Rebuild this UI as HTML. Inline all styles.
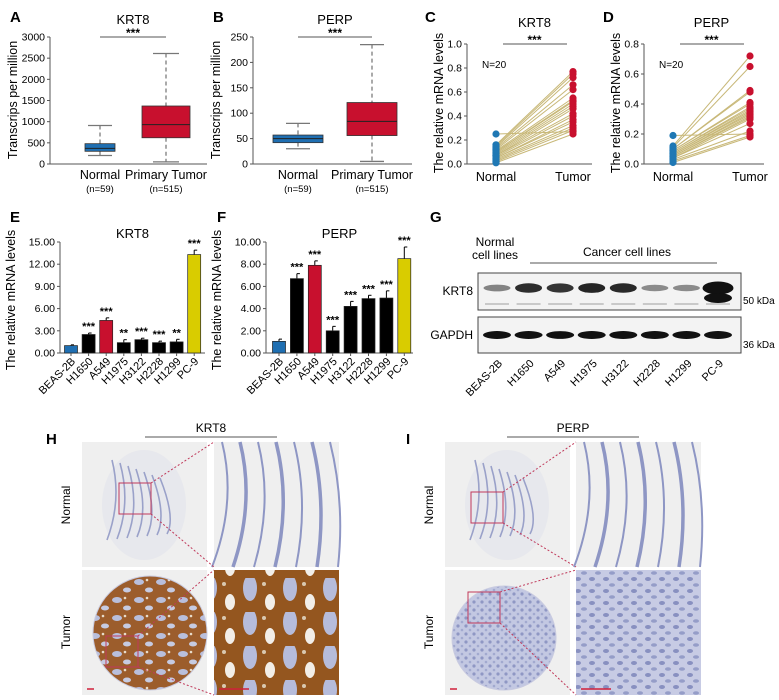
<!DOCTYPE html>
<html><head><meta charset="utf-8"><style>
html,body{margin:0;padding:0;background:#fff;}
svg{display:block;font-family:"Liberation Sans",Arial,sans-serif;}
</style></head><body>
<svg id="fig" width="779" height="700" viewBox="0 0 779 700" xmlns="http://www.w3.org/2000/svg">
<defs>
<pattern id="brownPat" width="22" height="18" patternUnits="userSpaceOnUse">
<rect width="22" height="18" fill="#9c5d2c"/>
<ellipse cx="7" cy="6" rx="5" ry="3" fill="#b9bfdc"/>
<ellipse cx="17" cy="14" rx="4" ry="2.5" fill="#c6cbe2"/>
<circle cx="15" cy="4" r="1.3" fill="#e8dccb"/>
</pattern>
<pattern id="brownZoom" width="40" height="34" patternUnits="userSpaceOnUse">
<rect width="40" height="34" fill="#94561f"/>
<ellipse cx="10" cy="10" rx="7" ry="13" fill="#b6bcdb"/>
<ellipse cx="30" cy="24" rx="5" ry="8" fill="#f2eee8"/>
<circle cx="24" cy="6" r="2" fill="#d9c8b0"/>
</pattern>
<pattern id="bluePat" width="8" height="8" patternUnits="userSpaceOnUse">
<rect width="8" height="8" fill="#c3c8e2"/>
<circle cx="2" cy="2" r="1.6" fill="#8f97c4"/>
<circle cx="6" cy="6" r="1.3" fill="#a2a9cf"/>
</pattern>
<pattern id="blueZoom" width="14" height="12" patternUnits="userSpaceOnUse">
<rect width="14" height="12" fill="#c7cbe4"/>
<ellipse cx="4" cy="3" rx="3" ry="2" fill="#8890c0"/>
<ellipse cx="10" cy="9" rx="3" ry="1.8" fill="#959dc8"/>
</pattern>
</defs>
<g id="root"></g>
</svg>
<script>
// ---------- DATA ----------
const boxCats = ["Normal","Primary Tumor"];
const boxN = ["(n=59)","(n=515)"];
const krt8Box = [[200,300,370,480,910],[50,620,930,1370,2610]];
const perpBox = [[30,42,50,57,80],[5,56,84,121,235]];
const krt8BoxTicks = [0,500,1000,1500,2000,2500,3000];
const perpBoxTicks = [0,50,100,150,200,250];

const krt8Normal = [0.25,0.16,0.15,0.14,0.13,0.12,0.11,0.10,0.10,0.09,0.08,0.07,0.07,0.06,0.05,0.05,0.04,0.03,0.02,0.01];
const krt8Tumor  = [0.27,0.77,0.75,0.72,0.66,0.62,0.55,0.53,0.52,0.50,0.48,0.46,0.42,0.40,0.37,0.35,0.32,0.30,0.28,0.25];
const perpNormal = [0.19,0.12,0.11,0.10,0.10,0.09,0.09,0.08,0.08,0.07,0.07,0.06,0.06,0.05,0.05,0.04,0.04,0.03,0.02,0.01];
const perpTumor  = [0.20,0.72,0.65,0.49,0.48,0.41,0.40,0.38,0.37,0.36,0.35,0.34,0.33,0.32,0.31,0.30,0.27,0.22,0.19,0.18];
const krt8PairTicks = [0,0.2,0.4,0.6,0.8,1.0];
const perpPairTicks = [0,0.2,0.4,0.6,0.8];

const cellLines = ["BEAS-2B","H1650","A549","H1975","H3122","H2228","H1299","PC-9"];
const krt8Bar = [1.0,2.5,4.4,1.4,1.8,1.4,1.5,13.3];
const krt8Err = [0.1,0.2,0.35,0.4,0.2,0.2,0.35,0.6];
const krt8Sig = ["","***","***","**","***","***","**","***"];
const perpBar = [1.05,6.7,7.9,2.0,4.2,4.9,4.95,8.5];
const perpErr = [0.2,0.45,0.4,0.4,0.45,0.3,0.65,1.05];
const perpSig = ["","***","***","***","***","***","***","***"];
const krt8BarTicks = ["0.00","3.00","6.00","9.00","12.00","15.00"];
const perpBarTicks = ["0.00","2.00","4.00","6.00","8.00","10.00"];
const barColors = ["#1f6fb2","#000","#c8102e","#000","#000","#000","#000","#d9cc00"];

const blotKrt8 = [0.35,0.9,0.85,0.95,0.92,0.3,0.3,1.6];
const blotGapdh = [0.9,0.9,0.88,0.92,0.92,0.92,0.9,0.9];

// ---------- HELPERS ----------
const NS="http://www.w3.org/2000/svg";
const root=document.getElementById('root');
function el(tag,attrs,parent){const e=document.createElementNS(NS,tag);for(const k in attrs)e.setAttribute(k,attrs[k]);(parent||root).appendChild(e);return e;}
function txt(s,attrs,parent){const e=el('text',attrs,parent);e.textContent=s;return e;}
function lin(d,rr){return v=>rr[0]+(v-d[0])/(d[1]-d[0])*(rr[1]-rr[0]);}

// panel letters
[["A",10,22],["B",213,22],["C",425,22],["D",603,22],["E",10,222],["F",217,222],["G",430,222],["H",46,444],["I",406,444]].forEach(p=>{
 const t=txt(p[0],{x:p[1],y:p[2],'font-size':15,'font-weight':'bold'});
 
 
});

// ---------- BOX PLOTS ----------
function boxPanel(o){
 const g=el('g',{});
 const y=lin([0,o.max],[164,37]);
 el('line',{x1:o.ax,y1:37,x2:o.ax,y2:164,stroke:'#555'},g);
 el('line',{x1:o.ax,y1:164,x2:o.axEnd,y2:164,stroke:'#555'},g);
 o.ticks.forEach(t=>{el('line',{x1:o.ax-3,x2:o.ax,y1:y(t),y2:y(t),stroke:'#555'},g);
  txt(String(t),{x:o.ax-5,y:y(t)+3.5,'font-size':10.5,'text-anchor':'end'},g);});
 const yt=txt('Transcrips per million',{x:0,y:0,'font-size':12.5,'text-anchor':'middle',transform:`translate(${o.ax-33},100) rotate(-90)`},g);
 
 txt(o.title,{x:(o.cx[0]+o.cx[1])/2,y:24,'font-size':13,'text-anchor':'middle'},g);
 el('line',{x1:o.cx[0],x2:o.cx[1],y1:37,y2:37,stroke:'#777','stroke-width':1.3},g);
 txt('***',{x:(o.cx[0]+o.cx[1])/2,y:37,'font-size':12,'text-anchor':'middle','font-weight':'bold'},g);
 o.data.forEach((d,i)=>{
  const cx=o.cx[i],w=o.w[i],cw=o.cw[i],col=i?'#c8102e':'#1f6fb2';
  el('line',{x1:cx,x2:cx,y1:y(d[4]),y2:y(d[3]),stroke:'#555','stroke-dasharray':'4,3'},g);
  el('line',{x1:cx,x2:cx,y1:y(d[1]),y2:y(d[0]),stroke:'#555','stroke-dasharray':'4,3'},g);
  el('line',{x1:cx-cw,x2:cx+cw,y1:y(d[4]),y2:y(d[4]),stroke:'#777','stroke-width':1.3},g);
  el('line',{x1:cx-cw,x2:cx+cw,y1:y(d[0]),y2:y(d[0]),stroke:'#777','stroke-width':1.3},g);
  const b=el('rect',{x:cx-w,y:y(d[3]),width:2*w,height:y(d[1])-y(d[3]),fill:col,stroke:'#333','stroke-width':0.8},g);
  
  el('line',{x1:cx-w,x2:cx+w,y1:y(d[2]),y2:y(d[2]),stroke:'#222'},g);
  txt(boxCats[i],{x:cx,y:179,'font-size':12.5,'text-anchor':'middle'},g);
  txt(boxN[i],{x:cx,y:192,'font-size':9.5,'text-anchor':'middle'},g);
 });
}
boxPanel({name:'panel-a-krt8-boxplot',ax:50,axEnd:207,max:3000,ticks:krt8BoxTicks,title:'KRT8',data:krt8Box,cx:[100,166],w:[15,24],cw:[12,13]});
boxPanel({name:'panel-b-perp-boxplot',ax:253,axEnd:412,max:250,ticks:perpBoxTicks,title:'PERP',data:perpBox,cx:[298,372],w:[25,25],cw:[12,12]});

// ---------- PAIRED PLOTS ----------
function pairPanel(o){
 const g=el('g',{});
 const y=lin([0,o.max],[164,44]);
 el('line',{x1:o.ax,y1:44,x2:o.ax,y2:164,stroke:'#555'},g);
 el('line',{x1:o.ax,y1:164,x2:o.axEnd,y2:164,stroke:'#555'},g);
 o.ticks.forEach(t=>{el('line',{x1:o.ax-3,x2:o.ax,y1:y(t),y2:y(t),stroke:'#555'},g);
  txt(t.toFixed(1),{x:o.ax-5,y:y(t)+3.5,'font-size':10.5,'text-anchor':'end'},g);});
 const yt=txt('The relative mRNA levels',{x:0,y:0,'font-size':12.5,'text-anchor':'middle',transform:`translate(${o.ax-24},103) rotate(-90)`},g);
 
 txt(o.title,{x:(o.nx+o.tx)/2,y:27,'font-size':13,'text-anchor':'middle'},g);
 el('line',{x1:o.nx+7,x2:o.tx-6,y1:44,y2:44,stroke:'#777','stroke-width':1.3},g);
 txt('***',{x:(o.nx+o.tx)/2,y:44,'font-size':12,'text-anchor':'middle','font-weight':'bold'},g);
 txt('N=20',{x:o.ax+15,y:68,'font-size':10},g);
 o.n.forEach((v,i)=>{const l=el('line',{x1:o.nx,y1:y(v),x2:o.tx,y2:y(o.t[i]),stroke:'#c8b878','stroke-width':1},g);
  });
 o.n.forEach(v=>{const c=el('circle',{cx:o.nx,cy:y(v),r:3.6,fill:'#1f78b4'},g);});
 o.t.forEach(v=>{const c=el('circle',{cx:o.tx,cy:y(v),r:3.6,fill:'#c8102e'},g);});
 txt('Normal',{x:o.nx,y:181,'font-size':12.5,'text-anchor':'middle'},g);
 txt('Tumor',{x:o.tx,y:181,'font-size':12.5,'text-anchor':'middle'},g);
}
pairPanel({name:'panel-c-krt8-paired',ax:467,axEnd:592,max:1.0,ticks:krt8PairTicks,title:'KRT8',n:krt8Normal,t:krt8Tumor,nx:496,tx:573});
pairPanel({name:'panel-d-perp-paired',ax:644,axEnd:764,max:0.8,ticks:perpPairTicks,title:'PERP',n:perpNormal,t:perpTumor,nx:673,tx:750});

// ---------- BAR CHARTS ----------
function barPanel(o){
 const g=el('g',{});
 const y=lin([0,o.max],[353,242]);
 el('line',{x1:o.ax,y1:242,x2:o.ax,y2:353,stroke:'#555'},g);
 el('line',{x1:o.ax,y1:353,x2:o.axEnd,y2:353,stroke:'#555'},g);
 o.ticks.forEach(t=>{const v=parseFloat(t);el('line',{x1:o.ax-3,x2:o.ax,y1:y(v),y2:y(v),stroke:'#555'},g);
  txt(t,{x:o.ax-5,y:y(v)+3.5,'font-size':10.5,'text-anchor':'end'},g);});
 const yt=txt('The relative mRNA levels',{x:0,y:0,'font-size':12.5,'text-anchor':'middle',transform:`translate(${o.ax-45},300) rotate(-90)`},g);
 
 txt(o.title,{x:o.ax+(o.axEnd-o.ax)/2,y:238,'font-size':13,'text-anchor':'middle'},g);
 o.vals.forEach((v,i)=>{
  const cx=o.x0+i*o.step;
  el('line',{x1:cx,x2:cx,y1:y(v),y2:y(v+o.err[i]),stroke:'#000'},g);
  el('line',{x1:cx,x2:cx+3,y1:y(v+o.err[i]),y2:y(v+o.err[i]),stroke:'#000'},g);
  const b=el('rect',{x:cx-6.5,y:y(v),width:13,height:353-y(v),fill:barColors[i],stroke:'#222','stroke-width':0.7},g);
  
  if(o.sig[i])txt(o.sig[i],{x:cx,y:y(v+o.err[i])-3,'font-size':11,'text-anchor':'middle','font-weight':'bold'},g);
  el('line',{x1:cx,x2:cx,y1:353,y2:356,stroke:'#555'},g);
  txt(cellLines[i],{x:0,y:0,'font-size':11,'text-anchor':'end',transform:`translate(${cx+5},362) rotate(-45)`},g);
 });
}
barPanel({name:'panel-e-krt8-bars',ax:60,axEnd:205,max:15,ticks:krt8BarTicks,title:'KRT8',vals:krt8Bar,err:krt8Err,sig:krt8Sig,x0:71,step:17.6});
barPanel({name:'panel-f-perp-bars',ax:266,axEnd:413,max:10,ticks:perpBarTicks,title:'PERP',vals:perpBar,err:perpErr,sig:perpSig,x0:279,step:17.9});

// ---------- WESTERN BLOT ----------
(function(){
 const g=el('g',{});
 txt('Normal',{x:495,y:246,'font-size':12,'text-anchor':'middle'},g);
 txt('cell lines',{x:495,y:259,'font-size':12,'text-anchor':'middle'},g);
 txt('Cancer cell lines',{x:627,y:256,'font-size':12,'text-anchor':'middle'},g);
 el('line',{x1:530,x2:717,y1:263,y2:263,stroke:'#555'},g);
 el('rect',{x:478,y:273,width:263,height:37,fill:'#f3f3f3',stroke:'#444'},g);
 el('rect',{x:478,y:317,width:263,height:36,fill:'#f3f3f3',stroke:'#444'},g);
 txt('KRT8',{x:473,y:295,'font-size':12,'text-anchor':'end'},g);
 txt('GAPDH',{x:473,y:339,'font-size':12,'text-anchor':'end'},g);
 txt('50 kDa',{x:743,y:304,'font-size':10},g);
 txt('36 kDa',{x:743,y:348,'font-size':10},g);
 const lanes=cellLines.length, x0=497, step=(718-497)/(lanes-1);
 cellLines.forEach((c,i)=>{
  const cx=x0+i*step, k=blotKrt8[i];
  const w=i===7?31:27;
  const bk=el('ellipse',{cx:cx,cy:288,rx:w/2,ry:Math.min(2.5+k*2.5,10),fill:'#111','fill-opacity':Math.min(0.25+k*0.7,1)},g);
  
  el('line',{x1:cx-12,x2:cx+12,y1:304,y2:304,stroke:'#bbb','stroke-width':1.5},g);
  const bg=el('ellipse',{cx:cx,cy:335,rx:14,ry:2.6+blotGapdh[i]*1.5,fill:'#111'},g);
  
  txt(c,{x:0,y:0,'font-size':11,'text-anchor':'end',transform:`translate(${cx+6},364) rotate(-45)`},g);
 });
 el('ellipse',{cx:718,cy:298,rx:14,ry:5,fill:'#111'},g);
})();

// ---------- IHC ----------
function ihc(o){
 const g=el('g',{});
 txt(o.title,{x:(o.l1+o.l2)/2,y:432,'font-size':12,'text-anchor':'middle'},g);
 el('line',{x1:o.l1,x2:o.l2,y1:437,y2:437,stroke:'#555'},g);
 txt('Normal',{x:0,y:0,'font-size':12,'text-anchor':'middle',transform:`translate(${o.lx},505) rotate(-90)`},g);
 txt('Tumor',{x:0,y:0,'font-size':12,'text-anchor':'middle',transform:`translate(${o.lx},632) rotate(-90)`},g);
 [[o.x1,442],[o.x2,442],[o.x1,570],[o.x2,570]].forEach(p=>el('rect',{x:p[0],y:p[1],width:125,height:125,fill:'#efefef'},g));
 el('ellipse',{cx:o.x1+62,cy:505,rx:42,ry:55,fill:'#dfe1ec','fill-opacity':0.5},g);
 for(let k=0;k<7;k++){el('path',{d:`M${o.x1+30+k*8} ${460+k*3} q ${10+k} 40 ${-5+k*2} ${80-k*4}`,stroke:'#9aa1c9','stroke-width':1.6,fill:'none'},g);}
 for(let k=0;k<7;k++){el('path',{d:`M${o.x2+8+k*18} 442 q ${15} 60 ${-10+k*3} 125`,stroke:'#8e96c4','stroke-width':2+(k%2)*1.5,fill:'none'},g);}
 const tc=el('circle',{cx:o.x1+o.tcx,cy:o.tcy,r:o.tr,fill:o.tfill,stroke:'#c9cbe0'},g);
 
 el('rect',{x:o.x2,y:570,width:125,height:125,fill:o.zfill},g);
 el('rect',{x:o.nr[0],y:o.nr[1],width:32,height:31,fill:'none',stroke:'#c0395a','stroke-width':1},g);
 el('rect',{x:o.tr2[0],y:o.tr2[1],width:32,height:31,fill:'none',stroke:'#c0395a','stroke-width':1},g);
 el('line',{x1:o.nr[0]+32,y1:o.nr[1],x2:o.x2,y2:442,stroke:'#c0395a','stroke-dasharray':'2,2'},g);
 el('line',{x1:o.nr[0]+32,y1:o.nr[1]+31,x2:o.x2,y2:567,stroke:'#c0395a','stroke-dasharray':'2,2'},g);
 el('line',{x1:o.tr2[0]+32,y1:o.tr2[1],x2:o.x2,y2:570,stroke:'#c0395a','stroke-dasharray':'2,2'},g);
 el('line',{x1:o.tr2[0]+32,y1:o.tr2[1]+31,x2:o.x2,y2:695,stroke:'#c0395a','stroke-dasharray':'2,2'},g);
 el('line',{x1:o.x1+5,x2:o.x1+12,y1:689,y2:689,stroke:'#d0203a','stroke-width':1.5},g);
 el('line',{x1:o.x2+5,x2:o.x2+35,y1:689,y2:689,stroke:'#d0203a','stroke-width':1.5},g);
}
ihc({name:'panel-h-krt8-ihc',title:'KRT8',l1:145,l2:277,lx:70,x1:82,x2:214,tcx:68,tcy:633,tr:57,tfill:'url(#brownPat)',zfill:'url(#brownZoom)',nr:[119,483],tr2:[106,636]});
ihc({name:'panel-i-perp-ihc',title:'PERP',l1:507,l2:639,lx:433,x1:445,x2:576,tcx:59,tcy:638,tr:52,tfill:'url(#bluePat)',zfill:'url(#blueZoom)',nr:[471,492],tr2:[468,592]});
</script>
</body></html>
